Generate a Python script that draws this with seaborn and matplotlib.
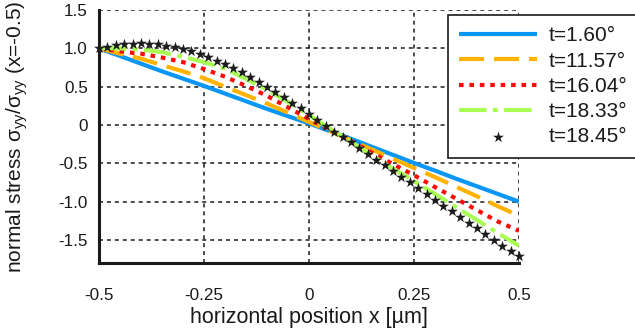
import numpy as np
import pandas as pd
import matplotlib
matplotlib.use("Agg")
import matplotlib.pyplot as plt
from matplotlib.ticker import MultipleLocator, FixedLocator
import seaborn as sns

# ---- data -------------------------------------------------------------
x_line = [-0.50, -0.45, -0.40, -0.35, -0.30, -0.25, -0.20, -0.15, -0.10, -0.05,
          0.00, 0.05, 0.10, 0.15, 0.20, 0.25, 0.30, 0.35, 0.40, 0.45, 0.50]

s_t160 = [1.00, 0.90, 0.80, 0.70, 0.605, 0.51, 0.41, 0.31, 0.21, 0.115,
          0.02, -0.08, -0.18, -0.285, -0.39, -0.495, -0.595, -0.70, -0.80, -0.90, -1.00]
s_t1157 = [1.00, 0.93, 0.865, 0.78, 0.70, 0.61, 0.50, 0.39, 0.28, 0.16,
           0.04, -0.08, -0.20, -0.32, -0.44, -0.56, -0.68, -0.805, -0.93, -1.06, -1.185]
s_t1604 = [1.00, 0.96, 0.93, 0.88, 0.82, 0.73, 0.63, 0.51, 0.38, 0.23,
           0.08, -0.065, -0.21, -0.36, -0.51, -0.655, -0.81, -0.96, -1.11, -1.26, -1.38]
s_t1833 = [1.00, 1.00, 0.985, 0.95, 0.89, 0.82, 0.735, 0.60, 0.46, 0.30,
           0.13, -0.05, -0.22, -0.40, -0.57, -0.73, -0.90, -1.07, -1.24, -1.41, -1.575]

x_star = [-0.50, -0.48, -0.46, -0.44, -0.42, -0.40, -0.38, -0.36, -0.34, -0.32,
          -0.30, -0.28, -0.26, -0.24, -0.22, -0.20, -0.18, -0.16, -0.14, -0.12,
          -0.10, -0.08, -0.06, -0.04, -0.02, 0.00, 0.02, 0.04, 0.06, 0.08,
          0.10, 0.12, 0.14, 0.16, 0.18, 0.20, 0.22, 0.24, 0.26, 0.28,
          0.30, 0.32, 0.34, 0.36, 0.38, 0.40, 0.42, 0.44, 0.46, 0.48, 0.50]
s_t1845 = [1.000, 1.020, 1.040, 1.055, 1.063, 1.067, 1.063, 1.055, 1.035, 1.015,
           0.990, 0.962, 0.928, 0.889, 0.840, 0.790, 0.738, 0.686, 0.629, 0.564,
           0.499, 0.434, 0.365, 0.292, 0.217, 0.143, 0.065, -0.013, -0.087, -0.155,
           -0.228, -0.302, -0.378, -0.452, -0.525, -0.600, -0.675, -0.750, -0.825, -0.900,
           -0.977, -1.052, -1.128, -1.200, -1.272, -1.345, -1.420, -1.498, -1.575, -1.640,
           -1.706]

line_labels = ["t=1.60°", "t=11.57°", "t=16.04°", "t=18.33°"]
star_label = "t=18.45°"

x_ticks = [-0.5, -0.25, 0, 0.25, 0.5]
x_tick_labels = ["-0.5", "-0.25", "0", "0.25", "0.5"]
y_ticks = [-1.5, -1.0, -0.5, 0, 0.5, 1.0, 1.5]
y_tick_labels = ["-1.5", "-1.0", "-0.5", "0", "0.5", "1.0", "1.5"]

# ---- style ------------------------------------------------------------
sns.set_style("white")
plt.rcParams["font.family"] = ["Liberation Sans", "DejaVu Sans"]
plt.rcParams["mathtext.fontset"] = "custom"
plt.rcParams["mathtext.rm"] = "Liberation Sans"
plt.rcParams["mathtext.it"] = "Liberation Sans:italic"
plt.rcParams["mathtext.bf"] = "Liberation Sans:bold"

ink = "#1a1a1a"
fig = plt.figure(figsize=(6.35, 3.32), dpi=100)
ax = fig.add_axes([99 / 635, 1 - 263 / 332, 420 / 635, 253 / 332])

lines_df = pd.DataFrame({
    "x": x_line * 4,
    "y": s_t160 + s_t1157 + s_t1604 + s_t1833,
    "series": sum([[lab] * len(x_line) for lab in line_labels], []),
})

line_styles = {
    "t=1.60°": ("#0a96f5", "-"),
    "t=11.57°": ("#ffb300", (0, (6.0, 2.4))),
    "t=16.04°": ("#ff0a0a", (0, (1.1, 1.4))),
    "t=18.33°": ("#aaff55", (0, (6.6, 1.5, 1.2, 1.5))),
}
lw = 3.0
for lab in line_labels:
    col, ls = line_styles[lab]
    sub = lines_df[lines_df["series"] == lab]
    sns.lineplot(data=sub, x="x", y="y", ax=ax, color=col, linewidth=lw,
                 linestyle=ls, label=lab, zorder=3, solid_capstyle="butt",
                 dash_capstyle="butt")

sns.scatterplot(x=x_star, y=s_t1845, ax=ax, marker="*", s=68, color="#1c1c1c",
                linewidth=0, label=star_label, zorder=4, clip_on=False)

# ---- axes -------------------------------------------------------------
ax.set_xlim(-0.5, 0.5)
ax.set_ylim(-1.8, 1.5)
ax.xaxis.set_major_locator(FixedLocator(x_ticks))
ax.set_xticklabels(x_tick_labels)
ax.yaxis.set_major_locator(FixedLocator(y_ticks))
ax.set_yticklabels(y_tick_labels)
ax.xaxis.set_minor_locator(MultipleLocator(0.02))
ax.yaxis.set_minor_locator(MultipleLocator(0.1))

for side in ["top", "right"]:
    ax.spines[side].set_visible(False)
for side in ["left", "bottom"]:
    ax.spines[side].set_linewidth(2.2)
    ax.spines[side].set_color(ink)

ax.tick_params(axis="x", which="major", direction="out", length=6, width=2.0,
               color=ink, labelsize=12.3, labelcolor=ink, pad=12)
ax.tick_params(axis="y", which="major", direction="out", length=5, width=2.0,
               color=ink, labelsize=12.3, labelcolor=ink, pad=3)
ax.tick_params(axis="x", which="minor", direction="in", length=3, width=1.5, color=ink)
ax.tick_params(axis="y", which="minor", direction="out", length=3, width=1.5, color=ink)

ax.grid(True, which="major", color=ink, linestyle=(0, (2.6, 2.6)), linewidth=1.1)
ax.set_axisbelow(True)

ax.set_xlabel("horizontal position x [µm]", fontsize=15.5, color=ink)
ax.set_ylabel(r"normal stress σ$_{\mathregular{yy}}$/σ$_{\mathregular{yy}}$ (x=-0.5)",
              fontsize=15, color=ink)
ax.xaxis.set_label_coords(0.5, -0.175)
ax.yaxis.set_label_coords(-0.165, 0.5)

handles, labels = ax.get_legend_handles_labels()
leg = ax.legend(handles, labels, loc="upper left",
                bbox_to_anchor=(448 / 635, 1 - 15 / 332),
                bbox_transform=fig.transFigure, borderaxespad=0,
                fontsize=15, handlelength=3.7, handletextpad=0.6,
                labelspacing=0.3, borderpad=0.55, fancybox=False,
                framealpha=1, edgecolor=ink)
leg.get_frame().set_linewidth(1.2)
for t in leg.get_texts():
    t.set_color(ink)

fig.savefig("out.png", dpi=100)
